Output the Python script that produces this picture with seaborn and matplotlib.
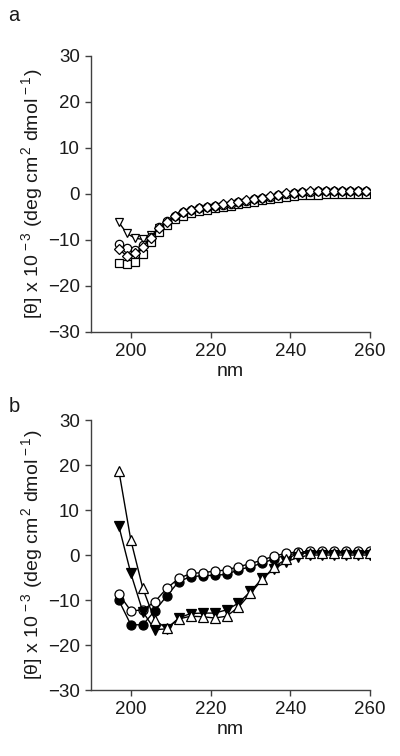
import matplotlib
matplotlib.use("Agg")
import matplotlib.pyplot as plt
import seaborn as sns

# panel a: wavelengths every 2 nm
nm_a = list(range(197, 260, 2))
a_diamond = [-12.0, -13.5, -12.8, -11.6, -9.5, -7.5, -6.0, -4.8, -4.0, -3.4, -3.0, -2.8,
             -2.6, -2.3, -2.0, -1.7, -1.4, -1.1, -0.8, -0.5, -0.2, 0.1, 0.3, 0.5,
             0.6, 0.7, 0.7, 0.7, 0.7, 0.7, 0.7, 0.7]
a_circle = [-10.9, -11.8, -12.3, -11.2, -9.3, -7.3, -5.9, -4.8, -4.0, -3.5, -3.1, -2.9,
            -2.7, -2.4, -2.1, -1.8, -1.5, -1.2, -0.9, -0.6, -0.3, 0.0, 0.2, 0.4,
            0.5, 0.6, 0.6, 0.6, 0.6, 0.6, 0.6, 0.6]
a_square = [-15.1, -15.3, -14.8, -13.0, -10.5, -8.3, -6.7, -5.5, -4.7, -4.1, -3.7, -3.4,
            -3.1, -2.9, -2.6, -2.3, -2.0, -1.7, -1.4, -1.1, -0.8, -0.6, -0.4, -0.3,
            -0.2, -0.2, -0.1, -0.1, -0.1, -0.1, -0.1, -0.1]
a_tri_down = [-6.2, -8.6, -9.6, -9.9, -9.0, -7.5, -6.3, -5.3, -4.6, -4.1, -3.7, -3.4,
              -3.1, -2.9, -2.6, -2.3, -2.0, -1.7, -1.4, -1.1, -0.8, -0.6, -0.4, -0.3,
              -0.2, -0.2, -0.1, -0.1, -0.1, -0.1, -0.1, -0.1]

# panel b: wavelengths every 3 nm
nm_b = list(range(197, 261, 3))
b_open_circle = [-8.7, -12.4, -12.2, -10.4, -7.4, -5.2, -4.1, -3.9, -3.6, -3.3, -2.6,
                 -1.9, -1.1, -0.2, 0.4, 0.7, 0.8, 0.8, 0.8, 0.8, 0.8, 0.8]
b_filled_circle = [-10.1, -15.5, -15.5, -12.4, -9.1, -5.9, -4.8, -4.6, -4.5, -4.3, -3.3,
                   -2.6, -1.8, -0.8, 0.0, 0.4, 0.5, 0.5, 0.5, 0.5, 0.5, 0.5]
b_open_tri = [18.7, 3.3, -7.4, -14.5, -16.3, -14.2, -13.6, -13.7, -14.0, -13.6, -11.6,
              -8.5, -5.4, -2.6, -0.9, 0.4, 0.5, 0.5, 0.5, 0.5, 0.5, 0.5]
b_filled_tri = [6.4, -4.1, -12.6, -16.6, -16.4, -14.0, -13.0, -12.9, -12.9, -12.2, -10.7,
                -8.1, -5.2, -3.0, -1.5, -0.5, 0.0, 0.0, 0.0, 0.0, 0.0, 0.0]

sns.set_theme(style="white")
plt.rcParams['font.family'] = ['Liberation Sans', 'DejaVu Sans']
plt.rcParams['mathtext.fontset'] = 'custom'
plt.rcParams['mathtext.rm'] = 'Liberation Sans'
plt.rcParams['mathtext.it'] = 'Liberation Sans'

fig = plt.figure(figsize=(4.0, 7.56), dpi=100)
ax_a = fig.add_axes([0.2275, 0.561, 0.6975, 0.365])
ax_b = fig.add_axes([0.2275, 0.0873, 0.6975, 0.357])


def draw(ax, x, y, marker, fill, ms):
    sns.lineplot(x=x, y=y, ax=ax, color='black', linewidth=1.0, marker=marker,
                 markersize=ms, markerfacecolor=fill, markeredgecolor='black',
                 markeredgewidth=0.9, sort=False, estimator=None)


draw(ax_a, nm_a, a_tri_down, 'v', 'white', 6)
draw(ax_a, nm_a, a_square, 's', 'white', 5.5)
draw(ax_a, nm_a, a_circle, 'o', 'white', 6)
draw(ax_a, nm_a, a_diamond, 'D', 'white', 5.5)

draw(ax_b, nm_b, b_filled_circle, 'o', 'black', 6.5)
draw(ax_b, nm_b, b_open_circle, 'o', 'white', 6.5)
draw(ax_b, nm_b, b_filled_tri, 'v', 'black', 6.5)
draw(ax_b, nm_b, b_open_tri, '^', 'white', 6.5)

ylab = r'[$\theta$] x 10$^{\,-3}$ (deg cm$^{\,2}$ dmol$^{\,-1}$)'
for ax in [ax_a, ax_b]:
    ax.set_xlim(190, 260)
    ax.set_ylim(-30, 30)
    ax.set_xticks([200, 220, 240, 260])
    ax.set_yticks(range(-30, 31, 10))
    for s in ['top', 'right']:
        ax.spines[s].set_visible(False)
    for s in ['left', 'bottom']:
        ax.spines[s].set_color('#404040')
        ax.spines[s].set_linewidth(1.0)
    ax.tick_params(axis='both', direction='out', length=4, width=1.0,
                   color='#404040', labelsize=13.5, labelcolor='#1a1a1a',
                   left=True, bottom=True, pad=4)
    ax.set_xlabel('nm', fontsize=14, color='#1a1a1a', labelpad=2)
    ax.set_ylabel(ylab, fontsize=14, color='#1a1a1a', labelpad=2)
    ax.set_facecolor('white')
    ax.grid(False)

fig.text(0.035, 0.979, 'a', fontsize=14.5, color='#1a1a1a', va='center', ha='center')
fig.text(0.035, 0.462, 'b', fontsize=14.5, color='#1a1a1a', va='center', ha='center')

fig.savefig('out.png', dpi=100)
